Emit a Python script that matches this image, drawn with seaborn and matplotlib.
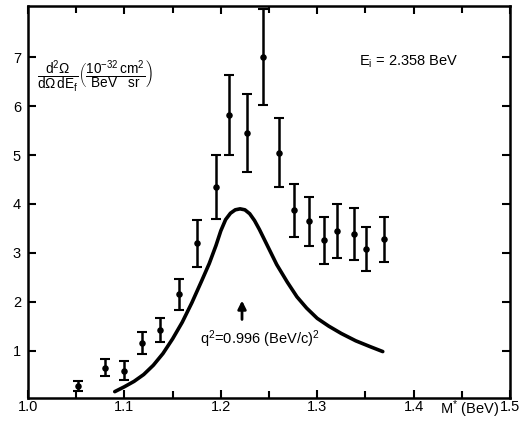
import matplotlib
matplotlib.use("Agg")
import matplotlib.pyplot as plt
import seaborn as sns
import pandas as pd

# Data points
mass = [1.052, 1.080, 1.100, 1.118, 1.137, 1.157, 1.175, 1.195, 1.209, 1.227,
        1.244, 1.260, 1.276, 1.291, 1.307, 1.321, 1.338, 1.351, 1.369]
xsec = [0.28, 0.65, 0.59, 1.15, 1.42, 2.15, 3.20, 4.35, 5.82, 5.45,
        7.00, 5.05, 3.87, 3.65, 3.26, 3.45, 3.38, 3.08, 3.28]
err = [0.10, 0.18, 0.20, 0.23, 0.25, 0.32, 0.48, 0.65, 0.82, 0.80,
       0.98, 0.70, 0.54, 0.50, 0.48, 0.55, 0.53, 0.45, 0.46]

# Theory curve
curve_m = [1.090, 1.100, 1.110, 1.120, 1.130, 1.140, 1.150, 1.160, 1.170, 1.180,
           1.188, 1.195, 1.200, 1.205, 1.210, 1.215, 1.220, 1.225, 1.230, 1.235,
           1.240, 1.248, 1.258, 1.269, 1.279, 1.289, 1.300, 1.312, 1.325, 1.340,
           1.355, 1.368]
curve_y = [0.16, 0.26, 0.37, 0.51, 0.70, 0.94, 1.24, 1.58, 1.98, 2.42,
           2.78, 3.15, 3.45, 3.68, 3.81, 3.88, 3.90, 3.88, 3.80, 3.66,
           3.48, 3.16, 2.76, 2.40, 2.10, 1.87, 1.66, 1.50, 1.35, 1.20,
           1.08, 0.98]

xticks_major = [1.0, 1.1, 1.2, 1.3, 1.4, 1.5]
xtick_labels = ["1.0", "1.1", "1.2", "1.3", "1.4", "1.5"]
xticks_minor = [1.05, 1.15, 1.25, 1.35, 1.45]
yticks = [1, 2, 3, 4, 5, 6, 7]

sns.set_theme(style="ticks")
plt.rcParams['font.family'] = ['Liberation Sans', 'DejaVu Sans']
plt.rcParams['mathtext.fontset'] = 'custom'
plt.rcParams['mathtext.rm'] = 'Liberation Sans'
plt.rcParams['mathtext.it'] = 'Liberation Sans:italic'
plt.rcParams['mathtext.bf'] = 'Liberation Sans:bold'

fig = plt.figure(figsize=(5.21, 4.21), dpi=100)
ax = fig.add_axes([28/521, (421-398)/421, (510-28)/521, (398-6)/421])

pts = pd.DataFrame({"m": mass, "s": xsec, "e": err})
cur = pd.DataFrame({"m": curve_m, "y": curve_y})

ax.errorbar(pts["m"], pts["s"], yerr=pts["e"], fmt="none", ecolor="black",
            elinewidth=1.8, capsize=3.5, capthick=1.5, zorder=2)
sns.scatterplot(data=pts, x="m", y="s", ax=ax, color="black", s=22,
                edgecolor="black", linewidth=0, zorder=3, legend=False)
sns.lineplot(data=cur, x="m", y="y", ax=ax, color="black", lw=2.6,
             sort=False, estimator=None, zorder=2)
ax.lines[-1].set_solid_joinstyle("round")
ax.lines[-1].set_solid_capstyle("round")

ax.set_xlim(1.0, 1.5)
ax.set_ylim(0.03, 8.05)
ax.set_xlabel("")
ax.set_ylabel("")

ax.set_xticks(xticks_major)
ax.set_xticklabels(xtick_labels)
ax.set_xticks(xticks_minor, minor=True)
ax.set_yticks(yticks)
ax.set_yticklabels([str(v) for v in yticks])

ax.tick_params(axis="both", which="both", direction="in", top=True, right=True,
               width=1.5, color="black", labelsize=10.5, labelcolor="black")
ax.tick_params(axis="both", which="major", length=6)
ax.tick_params(axis="both", which="minor", length=5)
ax.tick_params(axis="x", pad=1.5)
ax.tick_params(axis="y", pad=5)
ax.tick_params(right=True, labelright=False, top=True, labeltop=False)

for sp in ax.spines.values():
    sp.set_visible(True)
    sp.set_linewidth(1.8)
    sp.set_color("black")

# Annotations
ax.text(1.009, 6.6,
        r"$\dfrac{\mathrm{d}^2\Omega}{\mathrm{d}\Omega\,\mathrm{dE_f}}"
        r"\left(\dfrac{10^{-32}\,\mathrm{cm}^2}{\mathrm{BeV}\quad\mathrm{sr}}\right)$",
        fontsize=9.8, ha="left", va="center", color="black")
ax.text(1.343, 6.9, r"E$_\mathrm{i}$ = 2.358 BeV", fontsize=10.5,
        ha="left", va="center", color="black")
ax.text(1.178, 1.24, r"q$^2$=0.996 (BeV/c)$^2$", fontsize=10.5,
        ha="left", va="center", color="black")
ax.annotate("", xy=(1.222, 2.08), xytext=(1.222, 1.58),
            arrowprops=dict(arrowstyle="-|>", color="black", lw=2,
                            mutation_scale=12))
ax.text(1.427, -0.20, r"M$^{*}$ (BeV)", fontsize=10.5, ha="left", va="center",
        color="black", clip_on=False)

fig.savefig("out.png", dpi=100)
